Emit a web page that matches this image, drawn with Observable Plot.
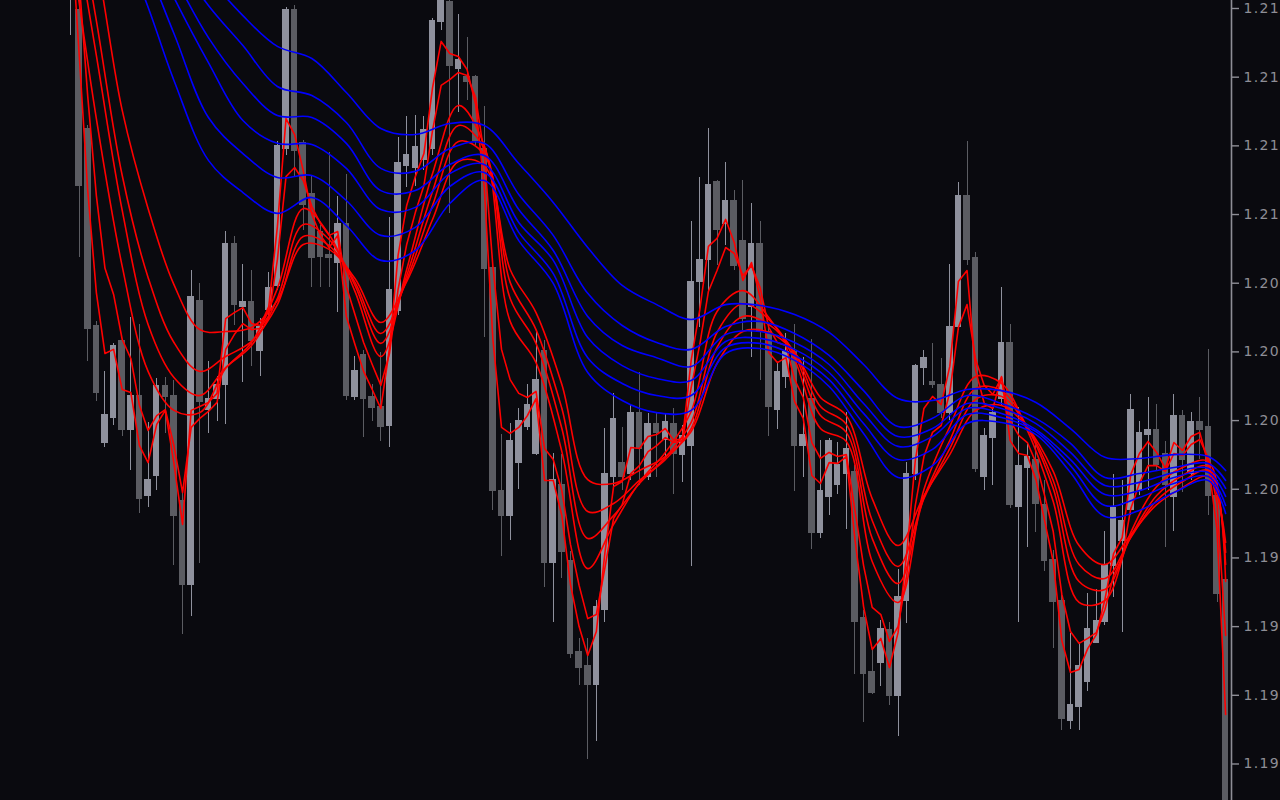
<!DOCTYPE html>
<html><head><meta charset="utf-8">
<script src="https://cdn.jsdelivr.net/npm/d3@7"></script>
<script src="https://cdn.jsdelivr.net/npm/@observablehq/plot@0.6"></script>
<style>
html,body{margin:0;padding:0;background:#0a0a0f;overflow:hidden;}
#chart svg{display:block;overflow:hidden;}
#chart svg text{letter-spacing:1.3px;}
</style></head><body><div id="chart"></div>
<script>
// OHLC candles (price), one per bar
const open = [
1.21843,1.21734,1.21304,1.20587,1.20161,1.20252,1.20529,1.20208,1.20332,1.19965,
1.20041,1.20365,1.20332,1.19950,1.19641,1.20678,1.20278,1.20318,1.20372,1.20882,
1.20656,1.20671,1.20496,1.20642,1.20729,1.21231,1.21734,1.21250,1.21064,1.20926,
1.20842,1.20813,1.20955,1.20325,1.20478,1.20325,1.20292,1.20223,1.20638,1.21169,
1.21162,1.21188,1.21231,1.21690,1.21763,1.21519,1.21490,1.21490,1.21231,1.20795,
1.19986,1.19895,1.20085,1.20219,1.20121,1.20496,1.19721,1.20005,1.19728,1.19397,
1.19346,1.19280,1.19550,1.20034,1.20085,1.20045,1.20270,1.20034,1.20227,1.20172,
1.20227,1.20117,1.20147,1.20747,1.20824,1.21108,1.20955,1.21042,1.20896,1.20656,
1.20882,1.20562,1.20278,1.20398,1.20489,1.20147,1.20321,1.19830,1.19961,1.20005,
1.20045,1.20052,1.19524,1.19324,1.19357,1.19477,1.19237,1.19586,1.20045,1.20434,
1.20380,1.20372,1.20270,1.20580,1.21057,1.20831,1.20034,1.20176,1.20321,1.20522,
1.19925,1.20070,1.20099,1.19932,1.19732,1.19586,1.19146,1.19197,1.19291,1.19433,
1.19506,1.19710,1.19804,1.19914,1.19986,1.20190,1.20208,1.20121,1.19961,1.20256,
1.20045,1.20234,1.20216,1.19968,1.19659];
const high = [
1.22025,1.21788,1.21315,1.20602,1.20420,1.20522,1.20536,1.20616,1.20591,1.20234,
1.20394,1.20398,1.20387,1.19986,1.20787,1.20740,1.20456,1.20401,1.20929,1.20911,
1.20809,1.20787,1.20612,1.20780,1.21257,1.21744,1.21752,1.21260,1.21129,1.20951,
1.21217,1.21057,1.21137,1.20474,1.20496,1.20372,1.20489,1.20980,1.21271,1.21348,
1.21351,1.21348,1.21705,1.21825,1.21788,1.21719,1.21635,1.21497,1.21384,1.20805,
1.20190,1.20230,1.20285,1.20372,1.20562,1.20532,1.20121,1.20117,1.19764,1.19448,
1.19448,1.19586,1.20212,1.20340,1.20216,1.20296,1.20416,1.20267,1.20267,1.20267,
1.20285,1.20223,1.20966,1.21126,1.21304,1.21115,1.21180,1.21078,1.21115,1.21031,
1.20966,1.20587,1.20452,1.20558,1.20591,1.20470,1.20536,1.20168,1.20176,1.20161,
1.20270,1.20077,1.19550,1.19411,1.19513,1.19506,1.19699,1.20088,1.20445,1.20496,
1.20522,1.20467,1.20809,1.21108,1.21257,1.20853,1.20212,1.20285,1.20725,1.20591,
1.20289,1.20154,1.20150,1.20023,1.19768,1.19622,1.19466,1.19430,1.19612,1.19626,
1.19837,1.20045,1.20023,1.20336,1.20238,1.20325,1.20299,1.20165,1.20336,1.20278,
1.20270,1.20325,1.20500,1.20023,1.19677];
const low = [
1.21643,1.20835,1.20456,1.20310,1.20143,1.20223,1.20183,1.20059,1.19903,1.19925,
1.19986,1.20194,1.19713,1.19462,1.19528,1.19721,1.20194,1.20238,1.20227,1.20587,
1.20380,1.20438,1.20401,1.20613,1.20714,1.21206,1.21126,1.20933,1.20725,1.20725,
1.20725,1.20634,1.20314,1.20314,1.20179,1.20238,1.20165,1.20143,1.20623,1.21089,
1.21093,1.21151,1.21206,1.21661,1.20995,1.21362,1.21406,1.21242,1.20543,1.19914,
1.19746,1.19804,1.19990,1.20205,1.20114,1.19633,1.19506,1.19666,1.19375,1.19277,
1.19007,1.19073,1.19506,1.19986,1.19986,1.20023,1.20005,1.20023,1.20034,1.20107,
1.19972,1.20016,1.19710,1.20580,1.20714,1.20805,1.20878,1.20787,1.20569,1.20470,
1.20387,1.20183,1.20208,1.20358,1.19983,1.20034,1.19772,1.19812,1.19895,1.19972,
1.19844,1.19317,1.19142,1.19244,1.19273,1.19204,1.19091,1.19502,1.20023,1.20369,
1.20358,1.20249,1.20241,1.20569,1.20805,1.20052,1.19986,1.20005,1.20296,1.19921,
1.19506,1.19779,1.19834,1.19692,1.19411,1.19113,1.19116,1.19113,1.19255,1.19430,
1.19495,1.19597,1.19470,1.19895,1.19968,1.19986,1.20059,1.19779,1.19837,1.19979,
1.20023,1.20099,1.19895,1.19579,1.18458];
const close = [
1.21988,1.21093,1.20576,1.20340,1.20263,1.20514,1.20208,1.20332,1.19957,1.20026,
1.20365,1.20325,1.19892,1.19641,1.20689,1.20310,1.20321,1.20372,1.20882,1.20660,
1.20671,1.20532,1.20580,1.20722,1.21239,1.21734,1.21224,1.21024,1.20831,1.20835,
1.20831,1.20955,1.20329,1.20420,1.20321,1.20285,1.20216,1.20718,1.21180,1.21209,
1.21235,1.21297,1.21697,1.21788,1.21530,1.21555,1.21472,1.21260,1.20791,1.19983,
1.19895,1.20168,1.20238,1.20299,1.20387,1.19721,1.20023,1.19764,1.19393,1.19339,
1.19280,1.19561,1.20045,1.20245,1.20034,1.20270,1.20136,1.20227,1.20194,1.20234,
1.20121,1.20183,1.20747,1.20827,1.21100,1.20936,1.21042,1.20805,1.20609,1.20882,
1.20562,1.20292,1.20416,1.20489,1.20147,1.20190,1.19830,1.19986,1.20165,1.20081,
1.20136,1.19506,1.19317,1.19251,1.19484,1.19237,1.19597,1.20045,1.20438,1.20470,
1.20369,1.20270,1.20580,1.21057,1.20827,1.20063,1.20183,1.20267,1.20522,1.19932,
1.20074,1.20107,1.19939,1.19728,1.19579,1.19153,1.19204,1.19346,1.19484,1.19513,
1.19717,1.19921,1.19877,1.20278,1.20194,1.20208,1.20081,1.20008,1.20256,1.20099,
1.20234,1.20208,1.19968,1.19608,1.18494];

// short-term group (red), read bar by bar for the two fastest
const ema3 = [
1.22061,1.21577,1.21078,1.20707,1.20485,1.20500,1.20354,1.20343,1.20150,1.20088,
1.20227,1.20278,1.20085,1.19863,1.20278,1.20292,1.20307,1.20340,1.20612,1.20634,
1.20652,1.20594,1.20587,1.20656,1.20947,1.21340,1.21282,1.21151,1.20991,1.20915,
1.20871,1.20915,1.20620,1.20518,1.20420,1.20354,1.20285,1.20503,1.20842,1.21024,
1.21129,1.21213,1.21453,1.21621,1.21577,1.21566,1.21519,1.21391,1.21089,1.20536,
1.20216,1.20194,1.20216,1.20259,1.20321,1.20023,1.20023,1.19895,1.19644,1.19491,
1.19386,1.19473,1.19761,1.20001,1.20019,1.20143,1.20139,1.20183,1.20190,1.20212,
1.20168,1.20176,1.20460,1.20645,1.20875,1.20904,1.20973,1.20889,1.20751,1.20816,
1.20689,1.20489,1.20452,1.20470,1.20310,1.20249,1.20041,1.20012,1.20088,1.20085,
1.20110,1.19808,1.19564,1.19408,1.19448,1.19342,1.19469,1.19757,1.20096,1.20285,
1.20329,1.20299,1.20438,1.20747,1.20787,1.20423,1.20303,1.20285,1.20401,1.20168,
1.20121,1.20114,1.20026,1.19877,1.19728,1.19440,1.19324,1.19335,1.19411,1.19462,
1.19590,1.19757,1.19815,1.20045,1.20121,1.20165,1.20125,1.20067,1.20161,1.20132,
1.20183,1.20198,1.20081,1.19844,1.19171];
const ema5 = [
1.22207,1.21843,1.21421,1.21060,1.20795,1.20700,1.20536,1.20467,1.20296,1.20205,
1.20259,1.20281,1.20150,1.19979,1.20216,1.20249,1.20274,1.20307,1.20500,1.20554,
1.20594,1.20572,1.20576,1.20623,1.20827,1.21129,1.21162,1.21115,1.21020,1.20958,
1.20915,1.20929,1.20729,1.20627,1.20525,1.20445,1.20369,1.20485,1.20718,1.20882,
1.20998,1.21097,1.21297,1.21461,1.21482,1.21508,1.21497,1.21417,1.21209,1.20802,
1.20500,1.20390,1.20340,1.20325,1.20347,1.20139,1.20099,1.19986,1.19790,1.19641,
1.19520,1.19535,1.19706,1.19885,1.19935,1.20048,1.20077,1.20128,1.20150,1.20179,
1.20161,1.20168,1.20361,1.20518,1.20711,1.20787,1.20871,1.20849,1.20769,1.20805,
1.20725,1.20580,1.20525,1.20514,1.20390,1.20325,1.20161,1.20103,1.20125,1.20110,
1.20117,1.19914,1.19713,1.19561,1.19535,1.19437,1.19491,1.19677,1.19932,1.20110,
1.20198,1.20223,1.20343,1.20580,1.20663,1.20463,1.20369,1.20336,1.20398,1.20241,
1.20187,1.20161,1.20088,1.19968,1.19837,1.19608,1.19473,1.19430,1.19448,1.19469,
1.19553,1.19677,1.19742,1.19921,1.20012,1.20077,1.20077,1.20056,1.20121,1.20114,
1.20154,1.20172,1.20103,1.19939,1.19459];

// slower red lines, read every third bar
const redBars = [0,3,6,9,12,15,18,21,24,27,30,33,36,39,42,45,48,51,54,57,60,63,66,69,72,75,78,81,84,87,90,93,96,99,102,105,108,111,114,117,120,123,126,129,132,134];
const ema8 = [1.21988,1.21340,1.20802,1.20420,1.20278,1.20270,1.20431,1.20525,1.20722,1.21013,1.20918,1.20711,1.20474,1.20791,1.21140,1.21388,1.21242,1.20602,1.20452,1.20128,1.19702,1.19863,1.20016,1.20125,1.20274,1.20638,1.20714,1.20616,1.20463,1.20212,1.20165,1.19728,1.19579,1.19990,1.20219,1.20401,1.20376,1.20205,1.19946,1.19579,1.19586,1.19834,1.20001,1.20070,1.20092,1.19655];
const ema10 = [1.22134,1.21570,1.21006,1.20591,1.20398,1.20332,1.20434,1.20514,1.20685,1.20955,1.20900,1.20733,1.20522,1.20769,1.21075,1.21315,1.21231,1.20685,1.20522,1.20212,1.19812,1.19895,1.20012,1.20107,1.20234,1.20562,1.20667,1.20609,1.20481,1.20259,1.20198,1.19812,1.19648,1.19961,1.20168,1.20358,1.20350,1.20216,1.19994,1.19655,1.19626,1.19819,1.19968,1.20041,1.20074,1.19717];
const ema12 = [1.22243,1.21697,1.21133,1.20762,1.20525,1.20420,1.20474,1.20529,1.20663,1.20911,1.20878,1.20744,1.20558,1.20754,1.21024,1.21257,1.21209,1.20744,1.20572,1.20285,1.19910,1.19939,1.20023,1.20099,1.20212,1.20507,1.20620,1.20591,1.20489,1.20292,1.20227,1.19877,1.19710,1.19957,1.20139,1.20318,1.20329,1.20216,1.20023,1.19717,1.19666,1.19815,1.19950,1.20019,1.20059,1.19761];
const ema15 = [1.22316,1.21916,1.21370,1.21013,1.20736,1.20572,1.20565,1.20580,1.20678,1.20882,1.20864,1.20758,1.20598,1.20747,1.20973,1.21184,1.21169,1.20791,1.20634,1.20372,1.20026,1.20012,1.20059,1.20110,1.20201,1.20449,1.20565,1.20562,1.20489,1.20325,1.20259,1.19957,1.19786,1.19968,1.20117,1.20278,1.20296,1.20216,1.20056,1.19786,1.19717,1.19826,1.19935,1.19997,1.20037,1.19797];

// long-term group (blue), read every fourth bar
const blueBars = [0,4,8,12,16,20,24,28,32,36,40,44,48,52,56,60,64,68,72,76,80,84,88,92,96,100,104,108,112,116,120,124,128,132,134];
const ema60 = [1.22716,1.22498,1.22352,1.22098,1.21861,1.21715,1.21603,1.21559,1.21435,1.21304,1.21282,1.21322,1.21315,1.21177,1.21035,1.20871,1.20733,1.20663,1.20609,1.20663,1.20660,1.20627,1.20562,1.20445,1.20321,1.20314,1.20354,1.20350,1.20307,1.20212,1.20107,1.20103,1.20117,1.20110,1.20059];
const ema50 = [1.22571,1.22389,1.22207,1.21934,1.21752,1.21606,1.21457,1.21424,1.21326,1.21159,1.21148,1.21231,1.21250,1.21064,1.20915,1.20704,1.20587,1.20525,1.20500,1.20583,1.20602,1.20558,1.20478,1.20350,1.20219,1.20249,1.20332,1.20303,1.20249,1.20158,1.20034,1.20048,1.20070,1.20085,1.20023];
const ema45 = [1.22498,1.22316,1.22116,1.21861,1.21635,1.21468,1.21351,1.21344,1.21250,1.21078,1.21078,1.21173,1.21206,1.21009,1.20860,1.20620,1.20514,1.20470,1.20438,1.20554,1.20565,1.20525,1.20445,1.20303,1.20183,1.20212,1.20303,1.20285,1.20230,1.20125,1.20005,1.20016,1.20052,1.20067,1.19994];
const ema40 = [1.22425,1.22243,1.22043,1.21781,1.21544,1.21333,1.21250,1.21246,1.21159,1.21009,1.21017,1.21140,1.21173,1.20962,1.20824,1.20543,1.20441,1.20394,1.20387,1.20529,1.20540,1.20500,1.20416,1.20267,1.20147,1.20183,1.20285,1.20267,1.20208,1.20099,1.19972,1.19986,1.20034,1.20052,1.19965];
const ema35 = [1.22352,1.22170,1.21952,1.21650,1.21344,1.21213,1.21126,1.21133,1.21042,1.20915,1.20944,1.21093,1.21144,1.20926,1.20776,1.20470,1.20376,1.20332,1.20332,1.20507,1.20522,1.20478,1.20390,1.20230,1.20099,1.20136,1.20263,1.20252,1.20201,1.20077,1.19932,1.19961,1.20012,1.20037,1.19932];
const ema30 = [1.22280,1.22061,1.21825,1.21479,1.21188,1.21071,1.20995,1.21053,1.20951,1.20824,1.20860,1.21031,1.21115,1.20896,1.20740,1.20416,1.20314,1.20270,1.20278,1.20485,1.20503,1.20460,1.20365,1.20194,1.20034,1.20077,1.20230,1.20234,1.20190,1.20052,1.19892,1.19914,1.19979,1.20023,1.19903];

// right-hand price axis ticks (labels shown truncated to two decimals, as on the chart)
const yTicks = [1.1900,1.1925,1.1950,1.1975,1.2000,1.2025,1.2050,1.2075,1.2100,1.2125,1.2150,1.2175];

const bull = "#8f919d", bear = "#5b5c62", axisCol = "#8e8e96";
const bars = d3.range(open.length);
const candles = bars.map(i => ({i, o: open[i], h: high[i], l: low[i], c: close[i]}));
const col = d => (d.c >= d.o ? bull : bear);

const redSeries = [
  {xs: redBars, ys: ema15, curve: "catmull-rom"},
  {xs: redBars, ys: ema12, curve: "catmull-rom"},
  {xs: redBars, ys: ema10, curve: "catmull-rom"},
  {xs: redBars, ys: ema8, curve: "catmull-rom"},
  {xs: bars, ys: ema5, curve: "linear"},
  {xs: bars, ys: ema3, curve: "linear"}
];
const blueSeries = [ema60, ema50, ema45, ema40, ema35, ema30].map(ys => ({xs: blueBars, ys, curve: "catmull-rom"}));
const lineMark = (s, color) => Plot.line(s.xs.map((x, k) => ({x, y: s.ys[k]})), {
  x: "x", y: "y", stroke: color, strokeWidth: 1.6, curve: s.curve, clip: true
});
const trunc2 = v => (Math.floor(v * 100 + 1e-6) / 100).toFixed(2);

const chart = Plot.plot({
  width: 1280, height: 800,
  marginLeft: 0, marginRight: 49, marginTop: 0, marginBottom: 0,
  style: {background: "#0a0a0f", color: axisCol, overflow: "hidden"},
  x: {domain: [-8.12, 134.68], axis: null},
  y: {domain: [1.18858, 1.2177]},
  marks: [
    Plot.ruleX(candles, {x: "i", y1: "l", y2: "h", stroke: col, strokeWidth: 1, shapeRendering: "crispEdges", clip: true}),
    Plot.rect(candles, {x1: d => d.i - 0.38, x2: d => d.i + 0.38, y1: "o", y2: "c", fill: col,
      insetTop: -0.5, insetBottom: -0.5, shapeRendering: "crispEdges", clip: true}),
    ...redSeries.map(s => lineMark(s, "#ff0000")),
    ...blueSeries.map(s => lineMark(s, "#0000ff")),
    Plot.ruleX([134.68], {stroke: axisCol, strokeWidth: 1.6}),
    Plot.axisY({anchor: "right", ticks: yTicks, tickFormat: trunc2, tickSize: 7, tickPadding: 5,
      fontSize: 14, fontFamily: "DejaVu Sans", dy: 2.5, label: null, stroke: axisCol, fill: axisCol, strokeWidth: 1.4})
  ]
});
document.getElementById("chart").appendChild(chart);
</script></body></html>
